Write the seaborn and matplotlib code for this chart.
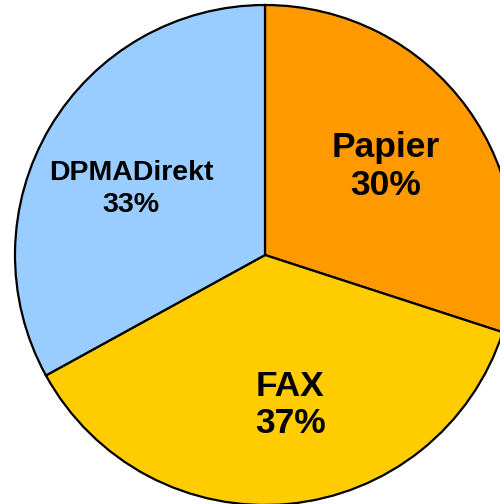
import matplotlib
matplotlib.use("Agg")
import matplotlib.pyplot as plt
import seaborn as sns

# data
labels = ["Papier", "FAX", "DPMADirekt"]
shares = [30, 37, 33]
colors = ["#FF9900", "#FFCC00", "#99CCFF"]

# label placement (in pie radius units), font sizes and line spacing
label_pos = [(0.484, 0.355), (0.1, -0.6), (-0.536, 0.265)]
label_size = [25.5, 25.5, 20.5]
label_spacing = [1.19, 1.16, 1.29]

sns.set_theme(style="white")
plt.rcParams['font.family'] = ['Liberation Sans', 'DejaVu Sans']

fig = plt.figure(figsize=(5.0, 5.04), dpi=100)
ax = fig.add_axes([0, 0, 1, 1])

wedges, _ = ax.pie(shares, colors=sns.color_palette(colors), startangle=90,
                   counterclock=False, radius=1.0,
                   wedgeprops=dict(edgecolor="black", linewidth=1.6))

for name, val, (x, y), fs, ls in zip(labels, shares, label_pos,
                                     label_size, label_spacing):
    ax.text(x, y, "%s\n%d%%" % (name, val), ha="center", va="center",
            fontsize=fs, fontweight="bold", color="black", linespacing=ls)

ax.set_xlim(-265 / 250, 235 / 250)
ax.set_ylim(-249 / 250, 255 / 250)
ax.set_aspect("equal")
ax.axis("off")

fig.savefig("out.png", dpi=100, facecolor="white")
